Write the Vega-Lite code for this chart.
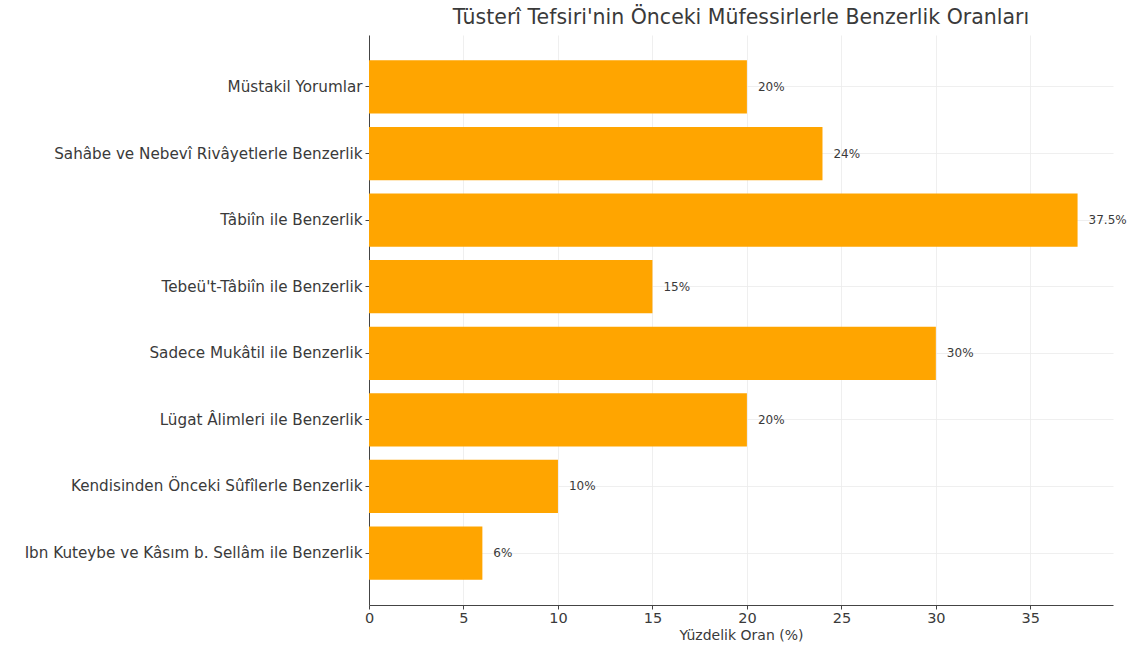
{
  "$schema": "https://vega.github.io/schema/vega-lite/v6.json",
  "width": 744,
  "height": 570,
  "autosize": "none",
  "padding": {"left": 369, "top": 35, "right": 18, "bottom": 47},
  "background": "white",
  "title": {
    "text": "Tüsterî Tefsiri'nin Önceki Müfessirlerle Benzerlik Oranları",
    "font": "DejaVu Sans",
    "fontSize": 20.5,
    "fontWeight": "normal",
    "color": "#3a3a3a",
    "anchor": "middle",
    "offset": 7
  },
  "data": {
    "values": [
      {"kategori": "Müstakil Yorumlar", "oran": 20, "label": "20%"},
      {"kategori": "Sahâbe ve Nebevî Rivâyetlerle Benzerlik", "oran": 24, "label": "24%"},
      {"kategori": "Tâbiîn ile Benzerlik", "oran": 37.5, "label": "37.5%"},
      {"kategori": "Tebeü't-Tâbiîn ile Benzerlik", "oran": 15, "label": "15%"},
      {"kategori": "Sadece Mukâtil ile Benzerlik", "oran": 30, "label": "30%"},
      {"kategori": "Lügat Âlimleri ile Benzerlik", "oran": 20, "label": "20%"},
      {"kategori": "Kendisinden Önceki Sûfîlerle Benzerlik", "oran": 10, "label": "10%"},
      {"kategori": "Ibn Kuteybe ve Kâsım b. Sellâm ile Benzerlik", "oran": 6, "label": "6%"}
    ]
  },
  "config": {
    "view": {"stroke": null},
    "axis": {
      "labelFont": "DejaVu Sans",
      "titleFont": "DejaVu Sans",
      "labelColor": "#3a3a3a",
      "titleColor": "#3a3a3a",
      "domainColor": "#444444",
      "tickColor": "#444444",
      "gridColor": "#ebebeb",
      "gridWidth": 0.8
    }
  },
  "encoding": {
    "y": {
      "field": "kategori",
      "type": "nominal",
      "sort": null,
      "scale": {"paddingInner": 0.2, "paddingOuter": 0.38},
      "axis": {
        "title": null,
        "labelFontSize": 15.2,
        "labelLimit": 0,
        "labelPadding": 3,
        "tickSize": 4,
        "grid": true,
        "domainWidth": 1
      }
    },
    "x": {
      "field": "oran",
      "type": "quantitative",
      "scale": {"domain": [0, 39.375], "nice": false, "zero": true},
      "axis": {
        "title": "Yüzdelik Oran (%)",
        "titleFontSize": 14,
        "titleFontWeight": "normal",
        "titlePadding": 4,
        "labelFontSize": 14.5,
        "labelFlush": false,
        "values": [0, 5, 10, 15, 20, 25, 30, 35],
        "tickSize": 4,
        "grid": true,
        "domainWidth": 1
      }
    }
  },
  "layer": [
    {"mark": {"type": "bar", "color": "#FFA500"}},
    {
      "mark": {"type": "text", "align": "left", "baseline": "middle", "dx": 11, "font": "DejaVu Sans", "fontSize": 12, "color": "#3a3a3a"},
      "encoding": {"text": {"field": "label"}}
    }
  ]
}
